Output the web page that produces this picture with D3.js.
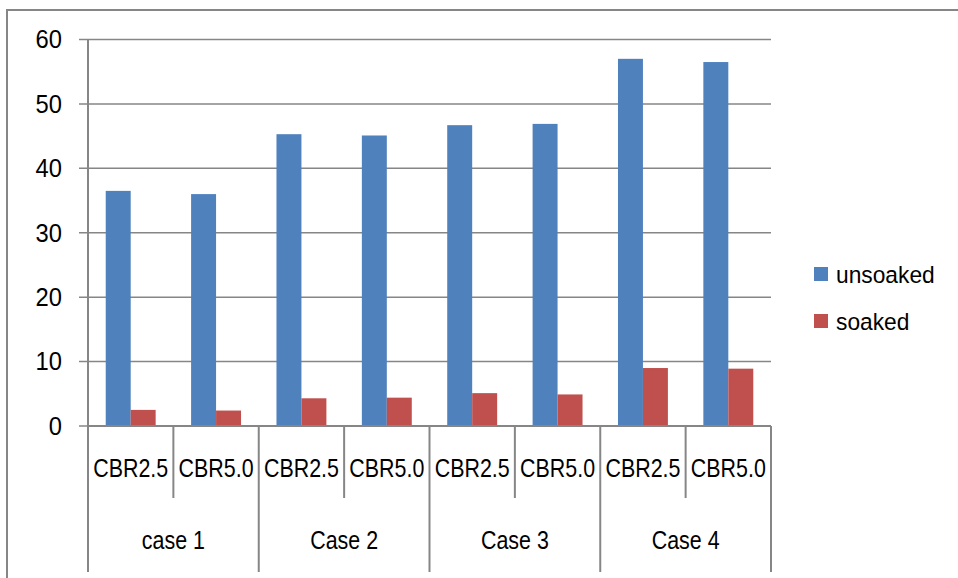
<!DOCTYPE html>
<html>
<head>
<meta charset="utf-8">
<script src="https://cdn.jsdelivr.net/npm/d3@7"></script>
<style>
  body { margin: 0; background: #fff; }
  svg text { font-family: "Liberation Sans", Arial, sans-serif; fill: #000; }
</style>
</head>
<body>
<div id="chart"></div>
<script>
// chart data
var groups = ['case 1', 'Case 2', 'Case 3', 'Case 4'];
var subs = ['CBR2.5', 'CBR5.0'];
var seriesNames = ['unsoaked', 'soaked'];
var unsoaked = [36.5, 36.0, 45.3, 45.1, 46.7, 46.9, 57.0, 56.5];
var soaked = [2.5, 2.4, 4.3, 4.4, 5.1, 4.9, 9.0, 8.9];
var yTicks = [0, 10, 20, 30, 40, 50, 60];
var colors = ['#4f81bd', '#c0504d'];

var width = 958, height = 578;
var margin = {top: 39.5, left: 88, right: 187, bottom: 152};
var innerW = width - margin.left - margin.right,
    innerH = height - margin.top - margin.bottom;
var axisColor = '#868686';

// the source font is a bit narrower than Arial, so squeeze text horizontally
function squeezed(sel, px, sx) {
  sel.style('font-size', px + 'px')
    .attr('transform', function() {
      var t = d3.select(this);
      var tx = +t.attr('x') || 0, ty = +t.attr('y') || 0;
      t.attr('x', 0).attr('y', 0);
      return 'translate(' + tx + ',' + ty + ') scale(' + sx + ',1)';
    });
}

var svg = d3.select('#chart').append('svg')
  .attr('width', width).attr('height', height);

// outer frame (top and left edges visible)
svg.append('path')
  .attr('d', 'M7,' + height + 'V10H' + width)
  .attr('fill', 'none').attr('stroke', axisColor).attr('stroke-width', 2);

var g = svg.append('g').attr('transform', 'translate(' + margin.left + ',' + margin.top + ')');

var cats = [];
groups.forEach(function(gr) {
  subs.forEach(function(s) { cats.push(gr + '|' + s); });
});

var x = d3.scaleBand().domain(cats).range([0, innerW]);
var xs = d3.scaleBand().domain(seriesNames).range([0, x.bandwidth()]).paddingOuter(0.71);
var y = d3.scaleLinear().domain([0, 60]).range([innerH, 0]);

// gridlines
g.append('g').selectAll('line').data(yTicks).enter().append('line')
  .attr('x1', -9).attr('x2', innerW)
  .attr('y1', function(d) { return y(d); }).attr('y2', function(d) { return y(d); })
  .attr('stroke', axisColor).attr('stroke-width', 1.5);

// y axis labels
g.append('g').selectAll('text').data(yTicks).enter().append('text')
  .attr('x', -26).attr('y', function(d) { return y(d); })
  .attr('dy', '0.35em').attr('text-anchor', 'end')
  .text(function(d) { return d; })
  .call(squeezed, 25, 0.95);
g.append('line').attr('x1', 0).attr('x2', 0).attr('y1', 0).attr('y2', innerH + 146)
  .attr('stroke', axisColor).attr('stroke-width', 2);

// bars
var data = cats.map(function(c, i) {
  return {cat: c, values: [unsoaked[i], soaked[i]]};
});
var barG = g.selectAll('.cat').data(data).enter().append('g')
  .attr('transform', function(d) { return 'translate(' + x(d.cat) + ',0)'; });
barG.selectAll('rect').data(function(d) {
  return d.values.map(function(v, j) { return {s: seriesNames[j], v: v, j: j}; });
}).enter().append('rect')
  .attr('x', function(d) { return xs(d.s); })
  .attr('width', xs.bandwidth())
  .attr('y', function(d) { return y(d.v); })
  .attr('height', function(d) { return innerH - y(d.v); })
  .attr('fill', function(d) { return colors[d.j]; });

// category axis line
g.append('line').attr('x1', 0).attr('x2', innerW).attr('y1', innerH).attr('y2', innerH)
  .attr('stroke', axisColor).attr('stroke-width', 2);

// separators
cats.forEach(function(c, i) {
  var xe = x(c) + x.bandwidth();
  var long = (i % 2 === 1);
  g.append('line').attr('x1', xe).attr('x2', xe)
    .attr('y1', innerH).attr('y2', innerH + (long ? 146 : 72))
    .attr('stroke', axisColor).attr('stroke-width', 2);
});

// sub labels
g.selectAll('.sub').data(cats).enter().append('text')
  .attr('x', function(d) { return x(d) + x.bandwidth() / 2; })
  .attr('y', innerH + 42)
  .attr('dy', '0.35em')
  .attr('text-anchor', 'middle')
  .text(function(d) { return d.split('|')[1]; })
  .call(squeezed, 25.5, 0.84);

// group labels
g.selectAll('.grp').data(groups).enter().append('text')
  .attr('x', function(d) { return x(d + '|' + subs[0]) + x.bandwidth(); })
  .attr('y', innerH + 114)
  .attr('dy', '0.35em')
  .attr('text-anchor', 'middle')
  .text(function(d) { return d; })
  .call(squeezed, 25.5, 0.84);

// legend
var legend = svg.append('g').attr('transform', 'translate(814,267)');
var li = legend.selectAll('g').data(seriesNames).enter().append('g')
  .attr('transform', function(d, i) { return 'translate(0,' + (i * 47) + ')'; });
li.append('rect').attr('width', 14).attr('height', 14)
  .attr('fill', function(d, i) { return colors[i]; });
li.append('text').attr('x', 22).attr('y', 7).attr('dy', '0.35em')
  .text(function(d) { return d; })
  .call(squeezed, 24.5, 0.93);
</script>
</body>
</html>
